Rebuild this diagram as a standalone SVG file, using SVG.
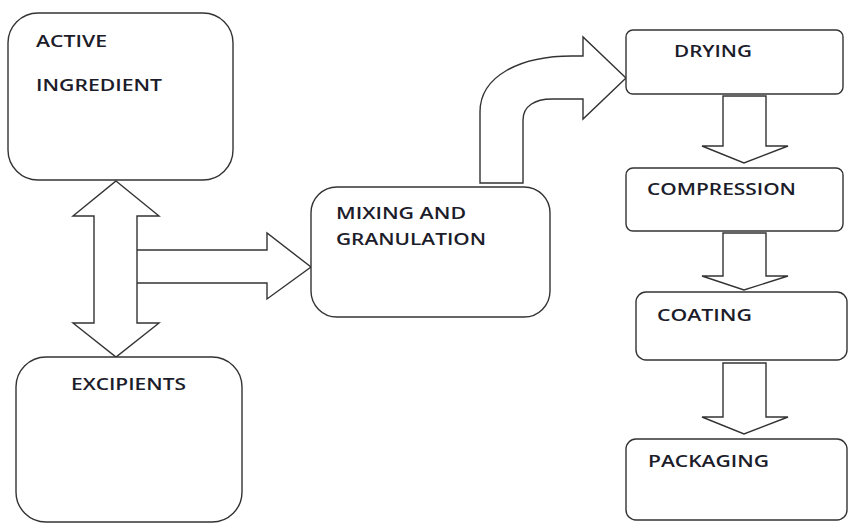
<svg xmlns="http://www.w3.org/2000/svg" width="848" height="523" viewBox="0 0 848 523">
<style>
.box{fill:#fff;stroke:#333;stroke-width:1.4}
.arr{fill:#fff;stroke:#333;stroke-width:1.4;stroke-linejoin:miter}
.lbl{font-family:"Open Sans","Liberation Sans",sans-serif;font-weight:600;font-size:17px;fill:#1c1c2a}
</style>
<rect width="848" height="523" fill="#fff"/>
<g id="connectors">
<path class="arr" d="M136,250 H267 V233 L311,267 L267,299 V283 H136 Z"/>
<path class="arr" d="M116,181 L159,216 H137 V323 H159 L116,357 L73,323 H94 V216 H73 Z"/>
<path class="arr" d="M480,183 V112 C480,76 520,56 572,56 H583 V37 L626,78 L583,119 V99 H552 C535,99 523,106 523,120 V183 Z"/>
<path class="arr" d="M723,96 H766 V146 H788 L744,163 L702,146 H723 Z"/>
<path class="arr" d="M723,233 H766 V276 H788 L744,290 L702,276 H723 Z"/>
<path class="arr" d="M723,363 H766 V417 H788 L744,434 L702,417 H723 Z"/>
</g>
<g id="active">
<rect class="box" x="8" y="13" width="225" height="167" rx="30"/>
<text class="lbl" x="36" y="47" textLength="71" lengthAdjust="spacingAndGlyphs">ACTIVE</text>
<text class="lbl" x="36" y="91" textLength="126" lengthAdjust="spacingAndGlyphs">INGREDIENT</text>
</g>
<g id="excipients">
<rect class="box" x="16" y="357" width="226" height="165" rx="30"/>
<text class="lbl" x="71" y="390" textLength="115" lengthAdjust="spacingAndGlyphs">EXCIPIENTS</text>
</g>
<g id="mixing">
<rect class="box" x="311" y="187" width="239" height="130" rx="26"/>
<text class="lbl" x="336" y="219" textLength="130" lengthAdjust="spacingAndGlyphs">MIXING AND</text>
<text class="lbl" x="336" y="245" textLength="150" lengthAdjust="spacingAndGlyphs">GRANULATION</text>
</g>
<g id="drying">
<rect class="box" x="626" y="30" width="217" height="64" rx="7"/>
<text class="lbl" x="674" y="57" textLength="78" lengthAdjust="spacingAndGlyphs">DRYING</text>
</g>
<g id="compression">
<rect class="box" x="626" y="168" width="217" height="63" rx="7"/>
<text class="lbl" x="647" y="195" textLength="149" lengthAdjust="spacingAndGlyphs">COMPRESSION</text>
</g>
<g id="coating">
<rect class="box" x="636" y="292" width="211" height="68" rx="10"/>
<text class="lbl" x="657" y="321" textLength="95" lengthAdjust="spacingAndGlyphs">COATING</text>
</g>
<g id="packaging">
<rect class="box" x="626" y="439" width="221" height="81" rx="10"/>
<text class="lbl" x="648" y="467" textLength="121" lengthAdjust="spacingAndGlyphs">PACKAGING</text>
</g>
</svg>
